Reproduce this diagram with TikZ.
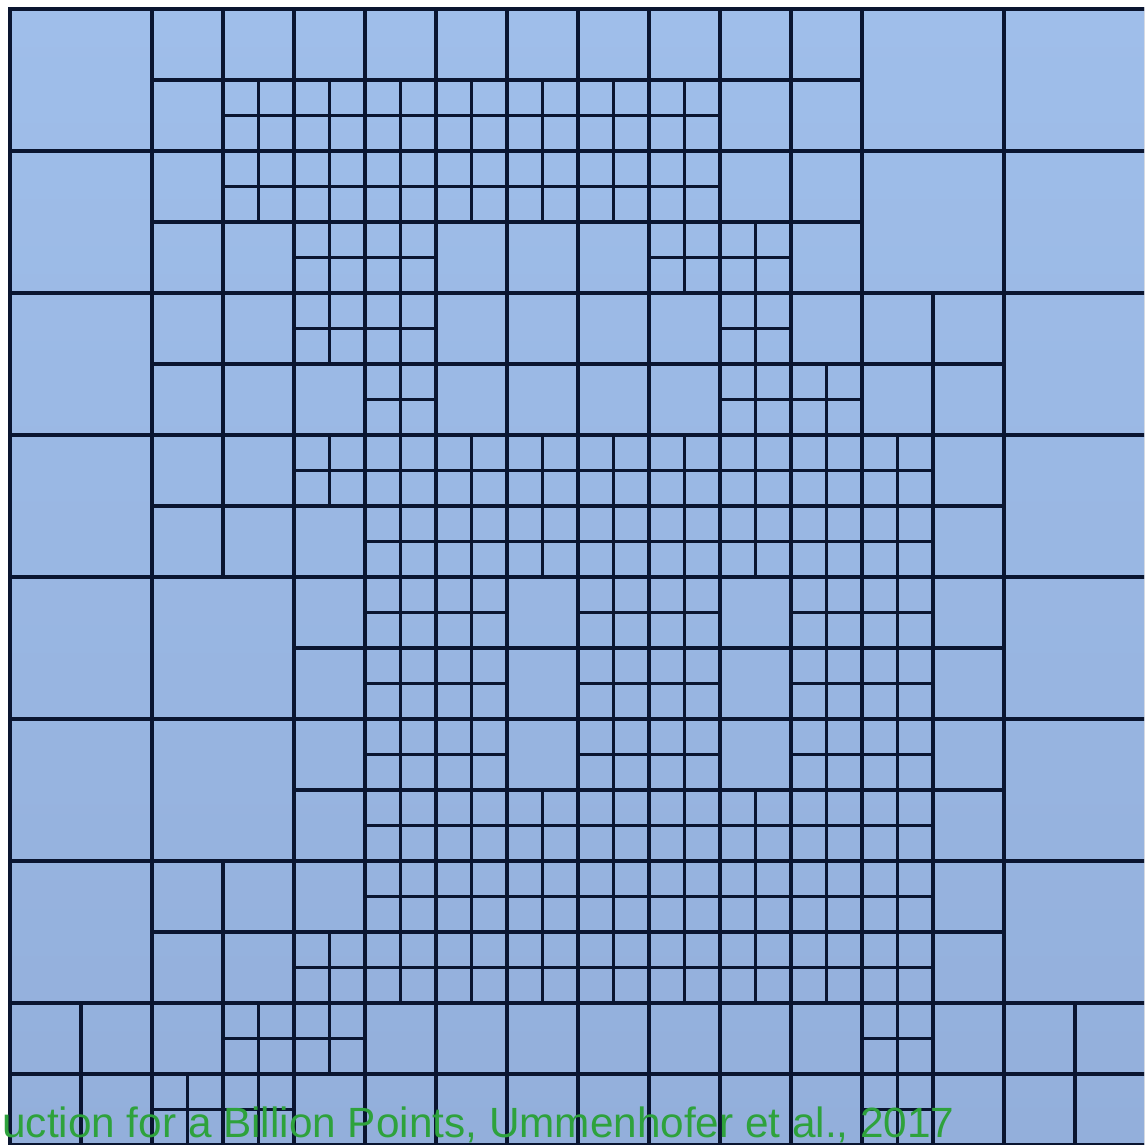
\documentclass[tikz,border=0pt]{standalone}
\usepackage{fontspec}
\newfontfamily\capfont{Liberation Sans}
\definecolor{bgtop}{HTML}{9FBEEA}
\definecolor{bgbot}{HTML}{93AFDB}
\definecolor{linec}{HTML}{0A1530}
\definecolor{capgreen}{HTML}{2EA23C}
\tikzset{
  qt/.style={line width=1.75pt, draw=linec, line cap=rect},
  captext/.style={anchor=base west, inner sep=0pt, text=capgreen, font=\capfont\fontsize{21.15pt}{25pt}\selectfont}
}
\begin{document}
\begin{tikzpicture}[x=17.75pt, y=-17.75pt]
\useasboundingbox (-0.2817,-0.2535) rectangle (31.944,32.0);
\clip (-0.2817,-0.2535) rectangle (31.944,32.0);
\fill[white] (-0.2817,-0.2535) rectangle (31.944,32.0);
\shade[top color=bgtop, bottom color=bgbot] (0,0) rectangle (32,32);
% level 0: full 8x8 grid
\foreach \k in {0,4,...,32} {
  \draw[qt] (\k,0) -- (\k,32);
  \draw[qt] (0,\k) -- (32,\k);
}
% level 1: split blocks (row J / columns I)
\foreach \J/\Is in {0/{1,2,3,4,5}, 1/{1,2,3,4,5}, 2/{1,2,3,4,5,6}, 3/{1,2,3,4,5,6},
                    4/{2,3,4,5,6}, 5/{2,3,4,5,6}, 6/{1,2,3,4,5,6}, 7/{0,1,2,3,4,5,6,7}} {
  \foreach \I in \Is {
    \draw[qt] ({4*\I+2},{4*\J}) -- ++(0,4) ({4*\I},{4*\J+2}) -- ++(4,0);
  }
}
% level 2: split sub-blocks (row b / columns a)
\foreach \B/\As in {1/{3,4,5,6,7,8,9}, 2/{3,4,5,6,7,8,9}, 3/{4,5,9,10}, 4/{4,5,10},
                    5/{5,10,11}, 6/{4,5,6,7,8,9,10,11,12}, 7/{5,6,7,8,9,10,11,12},
                    8/{5,6,8,9,11,12}, 9/{5,6,8,9,11,12}, 10/{5,6,8,9,11,12},
                    11/{5,6,7,8,9,10,11,12}, 12/{5,6,7,8,9,10,11,12},
                    13/{4,5,6,7,8,9,10,11,12}, 14/{3,4,12}, 15/{2,3,12}} {
  \foreach \A in \As {
    \draw[qt] ({2*\A+1},{2*\B}) -- ++(0,2) ({2*\A},{2*\B+1}) -- ++(2,0);
  }
}
\node[captext] (cap) at (-0.225,31.78) {uction for a Billion Points, Ummenhofer et al., 2017};
\end{tikzpicture}
\end{document}
